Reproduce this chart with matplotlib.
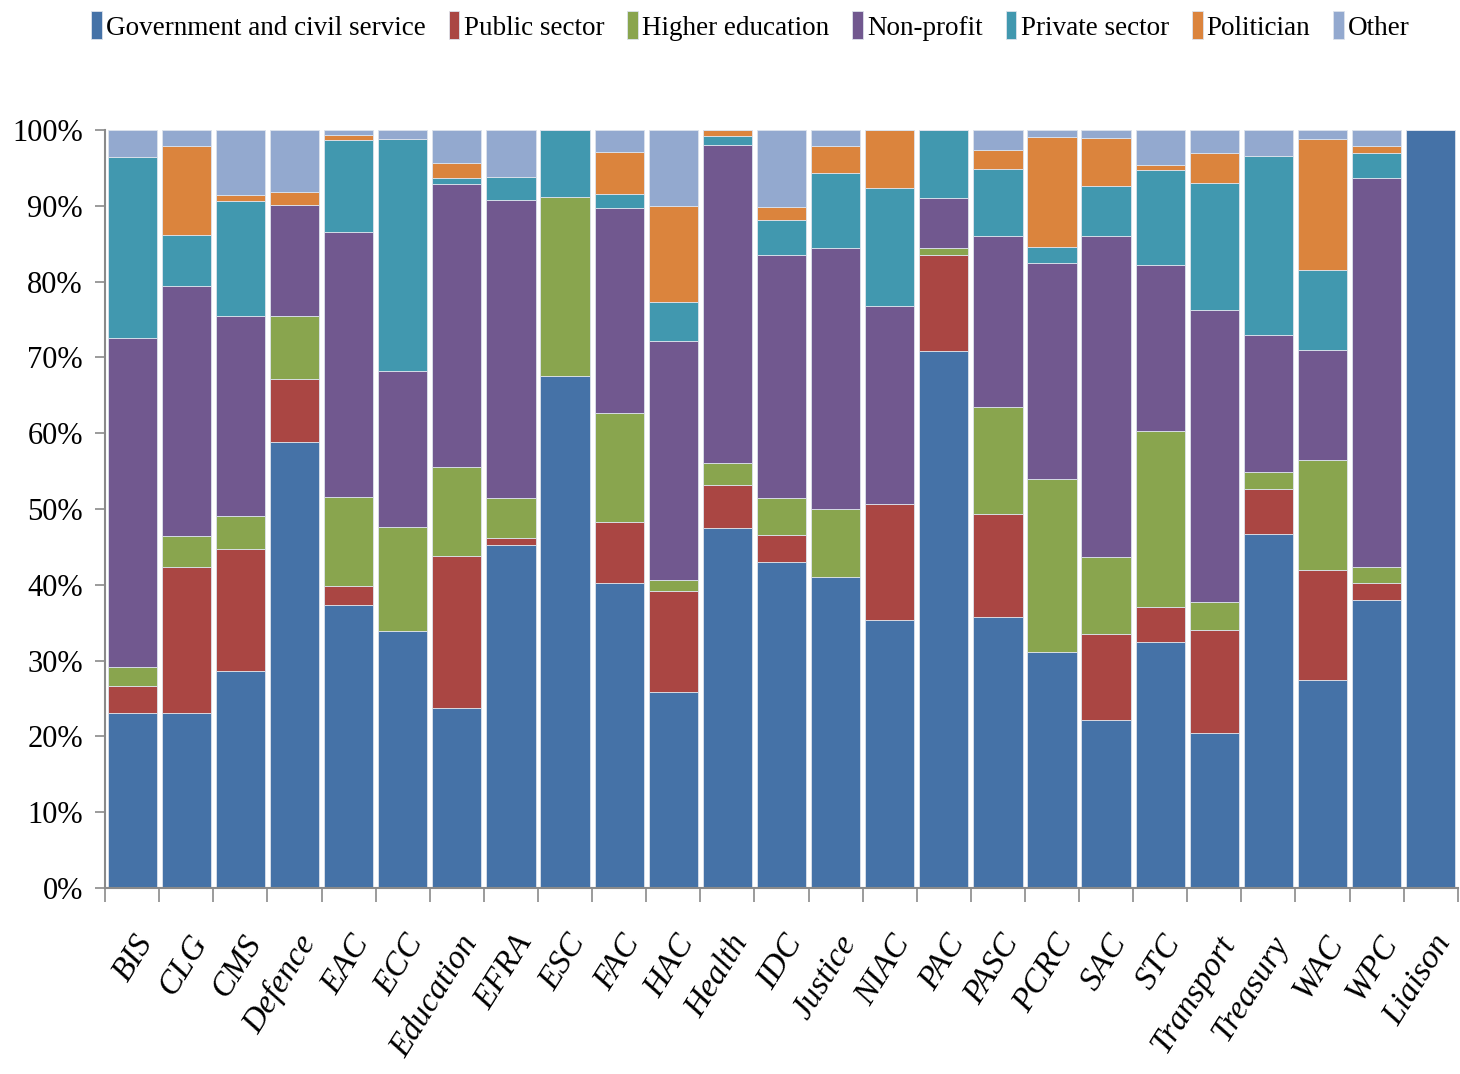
import matplotlib
matplotlib.use("Agg")
import matplotlib.pyplot as plt
import numpy as np

committees = ["BIS", "CLG", "CMS", "Defence", "EAC", "ECC", "Education", "EFRA",
              "ESC", "FAC", "HAC", "Health", "IDC", "Justice", "NIAC", "PAC",
              "PASC", "PCRC", "SAC", "STC", "Transport", "Treasury", "WAC", "WPC",
              "Liaison"]

government = [23.1, 23.1, 28.6, 58.9, 37.3, 33.9, 23.8, 45.2, 67.6, 40.2, 25.8, 47.5,
              43.0, 41.0, 35.3, 70.9, 35.7, 31.1, 22.2, 32.4, 20.5, 46.7, 27.5, 38.0, 100.0]
public_sector = [3.5, 19.2, 16.1, 8.3, 2.5, 0.0, 20.0, 1.0, 0.0, 8.1, 13.4, 5.7,
                 3.5, 0.0, 15.4, 12.6, 13.7, 0.0, 11.3, 4.7, 13.5, 6.0, 14.5, 2.2, 0.0]
higher_education = [2.5, 4.1, 4.4, 8.2, 11.8, 13.7, 11.7, 5.3, 23.5, 14.3, 1.4, 2.9,
                    4.9, 9.0, 0.0, 0.9, 14.1, 22.9, 10.2, 23.2, 3.7, 2.2, 14.5, 2.1, 0.0]
non_profit = [43.4, 33.0, 26.3, 14.7, 34.9, 20.6, 37.4, 39.2, 0.0, 27.1, 31.5, 41.9,
              32.1, 34.4, 26.1, 6.6, 22.5, 28.5, 42.3, 21.9, 38.5, 18.0, 14.5, 51.4, 0.0]
private_sector = [23.9, 6.8, 15.2, 0.0, 12.2, 30.6, 0.8, 3.1, 8.9, 1.8, 5.2, 1.2,
                  4.6, 9.9, 15.6, 9.0, 8.8, 2.0, 6.6, 12.5, 16.8, 23.6, 10.5, 3.2, 0.0]
politician = [0.0, 11.7, 0.8, 1.7, 0.6, 0.0, 1.9, 0.0, 0.0, 5.6, 12.7, 0.8,
              1.7, 3.6, 7.6, 0.0, 2.6, 14.6, 6.3, 0.7, 3.9, 0.0, 17.3, 1.0, 0.0]
other = [3.6, 2.1, 8.6, 8.2, 0.7, 1.2, 4.4, 6.2, 0.0, 2.9, 10.0, 0.0,
         10.2, 2.1, 0.0, 0.0, 2.6, 0.9, 1.1, 4.6, 3.1, 3.5, 1.2, 2.1, 0.0]

series_names = ["Government and civil service", "Public sector", "Higher education",
                "Non-profit", "Private sector", "Politician", "Other"]
series_values = [government, public_sector, higher_education, non_profit,
                 private_sector, politician, other]
colors = ["#4572A7", "#AA4643", "#89A54E", "#71588F", "#4198AF", "#DB843D", "#93A9CF"]

ytick_values = [0, 10, 20, 30, 40, 50, 60, 70, 80, 90, 100]

plt.rcParams["font.family"] = ["Liberation Serif", "DejaVu Serif"]

fig = plt.figure(figsize=(14.6, 10.74), dpi=100)
ax = fig.add_axes([0.072, 0.1732, 0.9265, 0.7058])

data = np.array(series_values, dtype=float)
totals = data.sum(axis=0)
shares = data / totals * 100.0
x = np.arange(len(committees))
bottom = np.zeros(len(committees))
handles = []
for name, vals, col in zip(series_names, shares, colors):
    h = ax.bar(x, vals, bottom=bottom, width=0.91, color=col,
               edgecolor="#dde3ec", linewidth=0.6, label=name)
    handles.append(h)
    bottom += vals

ax.set_xlim(-0.5, len(committees) - 0.5)
ax.set_ylim(0, 100)
ax.set_yticks(ytick_values)
ax.set_yticklabels([f"{v}%" for v in ytick_values], fontsize=22)
ax.tick_params(axis="y", direction="out", length=7, width=1.2, color="#8a8a8a", pad=9)

# category ticks sit on the boundaries between bars
ax.set_xticks(np.arange(len(committees) + 1) - 0.5, minor=False)
ax.set_xticklabels([])
ax.tick_params(axis="x", direction="out", length=10, width=1.2, color="#8a8a8a")
for xi, label in zip(x, committees):
    ax.annotate(label, xy=(xi, 0), xycoords=("data", "axes fraction"),
                xytext=(1, -30), textcoords="offset points",
                rotation=58, ha="right", va="top", rotation_mode="anchor",
                fontsize=24, style="italic")

for side in ["top", "right"]:
    ax.spines[side].set_visible(False)
for side in ["left", "bottom"]:
    ax.spines[side].set_color("#8a8a8a")
    ax.spines[side].set_linewidth(1.5)

fig.legend(handles=handles, labels=series_names, loc="upper center",
           bbox_to_anchor=(0.514, 1.012), ncol=7, frameon=False, fontsize=19.5,
           handlelength=0.4, handleheight=1.2, handletextpad=0.15,
           columnspacing=0.85)

fig.savefig("out.png", dpi=100, facecolor="white")
